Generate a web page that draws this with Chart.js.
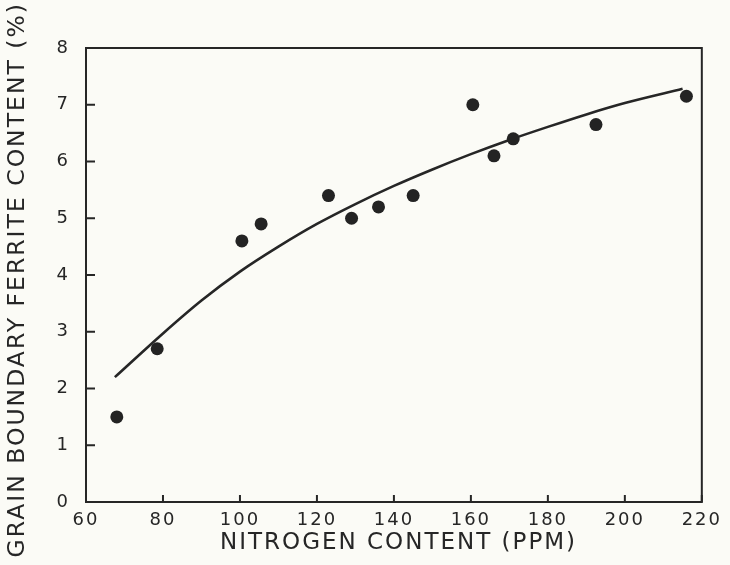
<!DOCTYPE html>
<html>
<head>
<meta charset="utf-8">
<title>Grain Boundary Ferrite Content</title>
<script src="https://cdn.jsdelivr.net/npm/chart.js@4/dist/chart.umd.min.js"></script>
<style>
	body { margin: 0; background: #fbfbf6; }
	#wrap { width: 730px; height: 565px; }
</style>
</head>
<body>
<div id="wrap"><canvas id="myChart" width="730" height="565"></canvas></div>
<script>
// Measured points
const nitrogen = [68, 78.5, 100.5, 105.5, 123, 129, 136, 145, 160.5, 166, 171, 192.5, 216];
const ferrite = [1.5, 2.7, 4.6, 4.9, 5.4, 5.0, 5.2, 5.4, 7.0, 6.1, 6.4, 6.65, 7.15];

// Fitted curve
const fitNitrogen = [67.5, 80, 90, 100, 110, 120, 130, 140, 150, 160, 170, 180, 190, 200, 215];
const fitFerrite = [2.2, 2.97, 3.55, 4.06, 4.5, 4.9, 5.25, 5.57, 5.86, 6.13, 6.38, 6.61, 6.83, 7.03, 7.28];

// Axis ticks
const xTicks = [60, 80, 100, 120, 140, 160, 180, 200, 220];
const yTicks = [0, 1, 2, 3, 4, 5, 6, 7, 8];

const ink = "#262626";
const font = "'DejaVu Sans', sans-serif";

// wide lettering like the original
const spacing = {
	id: "spacing",
	beforeLayout(chart) { chart.ctx.letterSpacing = "2px"; },
	beforeDraw(chart) { chart.ctx.letterSpacing = "2px"; },
};

// box around the plot and inward ticks
const frame = {
	id: "frame",
	beforeDatasetsDraw(chart) {
		const { ctx, chartArea: a, scales } = chart;
		ctx.save();
		ctx.strokeStyle = ink;
		ctx.lineWidth = 2;
		ctx.strokeRect(a.left, a.top, a.right - a.left, a.bottom - a.top);
		ctx.beginPath();
		scales.x.ticks.forEach((t) => {
			const px = scales.x.getPixelForValue(t.value);
			ctx.moveTo(px, a.bottom);
			ctx.lineTo(px, a.bottom - 7);
		});
		scales.y.ticks.forEach((t) => {
			const py = scales.y.getPixelForValue(t.value);
			ctx.moveTo(a.left, py);
			ctx.lineTo(a.left + 9, py);
		});
		ctx.stroke();
		ctx.restore();
	},
};

const ctx = document.getElementById("myChart").getContext("2d");
const myChart = new Chart(ctx, {
	type: "scatter",
	data: {
		datasets: [
			{
				label: "Measured",
				data: nitrogen.map((x, i) => ({ x: x, y: ferrite[i] })),
				backgroundColor: "#232323",
				borderWidth: 0,
				pointRadius: 6.5,
			},
			{
				label: "Fit",
				data: fitNitrogen.map((x, i) => ({ x: x, y: fitFerrite[i] })),
				showLine: true,
				borderColor: ink,
				borderWidth: 2.6,
				pointRadius: 0,
				cubicInterpolationMode: "monotone",
			},
		],
	},
	plugins: [spacing, frame],
	options: {
		responsive: false,
		animation: false,
		layout: { padding: { top: 48, right: 23, left: 0, bottom: 0 } },
		plugins: {
			legend: { display: false },
			tooltip: { enabled: false },
		},
		scales: {
			x: {
				type: "linear",
				min: 60,
				max: 220,
				afterBuildTicks: (scale) => { scale.ticks = xTicks.map((v) => ({ value: v })); },
				afterFit: (scale) => { scale.height = 63; },
				grid: { display: false, drawTicks: false },
				border: { display: false },
				ticks: { color: ink, padding: 8, font: { family: font, size: 18 } },
				title: {
					display: true,
					text: " NITROGEN CONTENT (PPM)",
					color: ink,
					padding: { top: 0, bottom: 8 },
					font: { family: font, size: 23 },
				},
			},
			y: {
				type: "linear",
				min: 0,
				max: 8,
				afterBuildTicks: (scale) => { scale.ticks = yTicks.map((v) => ({ value: v })); },
				afterFit: (scale) => { scale.width = 86; },
				grid: { display: false, drawTicks: false },
				border: { display: false },
				ticks: { color: ink, padding: 16, font: { family: font, size: 18 } },
				title: {
					display: true,
					text: "GRAIN BOUNDARY FERRITE CONTENT (%) ",
					color: ink,
					padding: { top: 4, bottom: 0 },
					font: { family: font, size: 23.5 },
				},
			},
		},
	},
});
</script>
</body>
</html>
